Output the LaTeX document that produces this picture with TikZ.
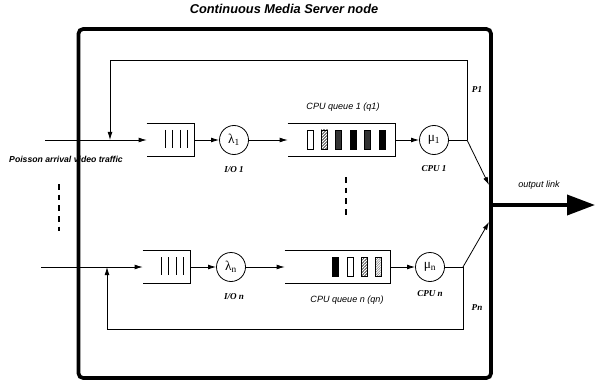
\documentclass[tikz,border=0pt]{standalone}
\usepackage{fontspec}
\setmainfont{Liberation Serif}
\setsansfont{Liberation Sans}
\usetikzlibrary{arrows.meta,patterns.meta,positioning}
\tikzset{srv/.style={circle,draw,line width=0.6pt,minimum size=21.75pt,inner sep=0pt,font=\fontsize{10}{10}\selectfont}}
\tikzset{ioq/.style={rectangle,minimum width=35.25pt,minimum height=24.75pt,inner sep=0pt}}
\tikzset{cpuq/.style={rectangle,minimum height=24.75pt,inner sep=0pt}}
\tikzset{flow/.style={-{Latex[length=6pt,width=3.6pt]},line width=0.6pt}}
\tikzset{link/.style={-{Triangle[length=21pt,width=15pt]},line width=2.8pt}}
\tikzset{lbl/.style={font=\fontsize{6.8}{7}\selectfont\bfseries\itshape}}
\tikzset{tag/.style={font=\sffamily\itshape\fontsize{6.8}{8}\selectfont}}
\tikzset{more/.style={line width=2pt,dash pattern=on 4.2pt off 3.8pt}}
\tikzset{jobwhite/.style={draw,line width=0.5pt,fill=white}}
\tikzset{jobhatch/.style={draw,line width=0.5pt,pattern={Lines[angle=45,distance=1.6pt,line width=0.4pt]}}}
\tikzset{jobgrey/.style={draw,line width=0.5pt,pattern={Lines[angle=45,distance=1.3pt,line width=0.4pt]},pattern color=gray}}
\tikzset{jobdark/.style={draw,line width=0.5pt,fill=black!80}}
\tikzset{jobblack/.style={draw,line width=0.5pt,fill=black}}
\begin{document}
\begin{tikzpicture}[x=0.75pt,y=-0.75pt]
\useasboundingbox (0,0) rectangle (595,381);
\node (title) [font=\sffamily\bfseries\itshape\fontsize{9.6}{11}\selectfont] at (284,9) {Continuous Media Server node};
\node (poisson) [font=\sffamily\bfseries\itshape\fontsize{6.5}{7}\selectfont] at (66,159) {Poisson arrival video traffic};

% server frame
\draw[line width=2.8pt,rounded corners=3.5pt] (78.5,29) rectangle (491,378);

% first stream
\coordinate (in1) at (45,140);
\coordinate (fb1) at (110,140);
\node (io1) [ioq] at (170.5,140) {};
\node (lam1) [srv] at (234,140) {λ\textsubscript{1}};
\node (cq1) [cpuq,minimum width=80.25pt] at (341.5,140) {};
\node (mu1) [srv] at (434,140) {μ\textsubscript{1}};
\coordinate (sp1) at (467,140);
\coordinate (top1) at (467,60);
\coordinate (hit1) at (489,185);

% n-th stream
\coordinate (inn) at (41,267);
\coordinate (fbn) at (107,267);
\node (ion) [ioq] at (166.5,267) {};
\node (lamn) [srv] at (231,267) {λ\textsubscript{n}};
\node (cqn) [cpuq,minimum width=78.75pt] at (337.5,267) {};
\node (mun) [srv] at (430,267) {μ\textsubscript{n}};
\coordinate (spn) at (463,267);
\coordinate (botn) at (463,329);
\coordinate (hitn) at (489,222);

% queue outlines
\draw[line width=0.6pt] (io1.north west) -- (io1.north east) -- (io1.south east) -- (io1.south west);
\draw[line width=0.6pt] (ion.north west) -- (ion.north east) -- (ion.south east) -- (ion.south west);
\draw[line width=0.6pt] (cq1.north west) -- (cq1.north east) -- (cq1.south east) -- (cq1.south west);
\draw[line width=0.6pt] (cqn.north west) -- (cqn.north east) -- (cqn.south east) -- (cqn.south west);
\foreach \d in {18,25,33,40} {
	\draw[line width=0.6pt] (147+\d,130) -- (147+\d,148);
	\draw[line width=0.6pt] (143+\d,257) -- (143+\d,275);
}
\foreach \x/\s in {307/jobwhite,321/jobhatch,335/jobdark,350/jobblack,364/jobdark,379/jobblack}
	\draw[\s] (\x,130) rectangle ++(6.5,19);
\foreach \x/\s in {332/jobblack,347/jobwhite,361/jobhatch,375/jobgrey}
	\draw[\s] (\x,257) rectangle ++(6.5,19);

% arrivals and service
\draw[flow] (in1) -- (io1.west);
\draw[flow] (io1.east) -- (lam1);
\draw[flow] (lam1) -- (cq1.west);
\draw[flow] (cq1.east) -- (mu1);
\draw[line width=0.6pt] (mu1) -- (sp1);
\draw[flow] (sp1) -- (hit1);
\draw[flow] (sp1) -- (top1) -| (fb1);

\draw[flow] (inn) -- (ion.west);
\draw[flow] (ion.east) -- (lamn);
\draw[flow] (lamn) -- (cqn.west);
\draw[flow] (cqn.east) -- (mun);
\draw[line width=0.6pt] (mun) -- (spn);
\draw[flow] (spn) -- (hitn);
\draw[flow] (spn) -- (botn) -| (fbn);

% output link
\coordinate (outl) at (491,205);
\coordinate (outr) at (595,205);
\draw[link] (outl) -- (outr);
\node (outlbl) [tag] at (539,185) {output link};

% labels
\node (io1lbl) [lbl] at (234,170) {I/O 1};
\node (cpu1lbl) [lbl] at (434,169) {CPU 1};
\node (q1lbl) [tag] at (343,107) {CPU queue 1 (q1)};
\node (p1lbl) [lbl] at (477,90) {P1};
\node (ionlbl) [lbl] at (234,297) {I/O n};
\node (cpunlbl) [lbl] at (430,294) {CPU n};
\node (qnlbl) [tag] at (347,300) {CPU queue n (qn)};
\node (pnlbl) [lbl] at (477,308) {Pn};

% further streams
\draw[more] (59,184) -- (59,231);
\draw[more] (346,177) -- (346,215);
\end{tikzpicture}
\end{document}
